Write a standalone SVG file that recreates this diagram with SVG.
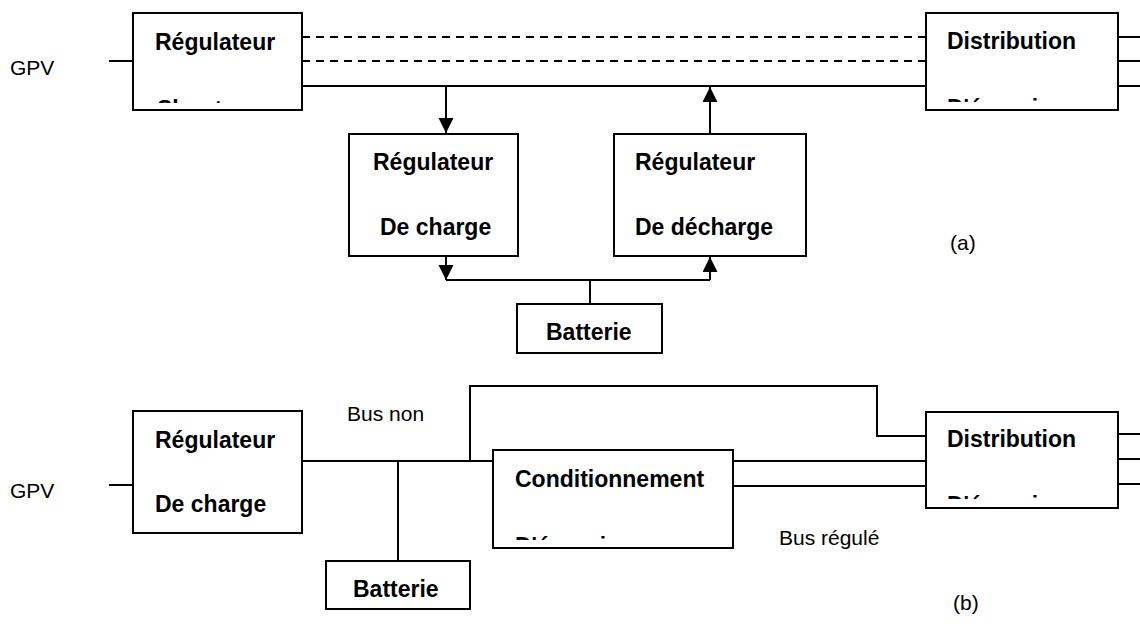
<svg xmlns="http://www.w3.org/2000/svg" width="1140" height="629" viewBox="0 0 1140 629">
<style>
.box{fill:#fff;stroke:#000;stroke-width:2}
.ln{fill:none;stroke:#000;stroke-width:2}
.dash{fill:none;stroke:#000;stroke-width:2;stroke-dasharray:8 6}
.b{font-family:"Liberation Sans",Arial,sans-serif;font-weight:bold;font-size:23px;fill:#000}
.r{font-family:"Liberation Sans",Arial,sans-serif;font-size:21px;fill:#000}
</style>
<defs>
<marker id="ah" markerUnits="userSpaceOnUse" markerWidth="16" markerHeight="16" refX="15" refY="7.5" orient="auto">
<path d="M0,0 L15,7.5 L0,15 Z" fill="#000"/>
</marker>
<clipPath id="c1"><rect x="133" y="13" width="169" height="90"/></clipPath>
<clipPath id="c2"><rect x="926" y="13" width="192" height="89"/></clipPath>
<clipPath id="c3"><rect x="493" y="450" width="240" height="90"/></clipPath>
<clipPath id="c4"><rect x="926" y="412" width="192" height="87"/></clipPath>
</defs>

<g id="connectors">
<line class="ln" x1="109" y1="61" x2="133" y2="61"/>
<line class="dash" x1="302" y1="37" x2="926" y2="37"/>
<line class="dash" x1="302" y1="61" x2="926" y2="61"/>
<line class="ln" x1="302" y1="86" x2="926" y2="86" stroke-width="2.5"/>
<line class="ln" x1="1118" y1="37" x2="1140" y2="37"/>
<line class="ln" x1="1118" y1="61" x2="1140" y2="61"/>
<line class="ln" x1="1118" y1="86" x2="1140" y2="86"/>
<line class="ln" x1="446" y1="86" x2="446" y2="133" marker-end="url(#ah)"/>
<line class="ln" x1="710" y1="134" x2="710" y2="87" marker-end="url(#ah)"/>
<line class="ln" x1="446" y1="256" x2="446" y2="280" marker-end="url(#ah)"/>
<line class="ln" x1="710" y1="280" x2="710" y2="257" marker-end="url(#ah)"/>
<polyline class="ln" points="446,280 710,280"/>
<line class="ln" x1="590" y1="280" x2="590" y2="304"/>

<line class="ln" x1="109" y1="485" x2="133" y2="485"/>
<line class="ln" x1="302" y1="461" x2="493" y2="461"/>
<line class="ln" x1="398" y1="461" x2="398" y2="561"/>
<polyline class="ln" points="470,461 470,386 877,386 877,436 926,436"/>
<line class="ln" x1="733" y1="461" x2="926" y2="461"/>
<line class="ln" x1="733" y1="486" x2="926" y2="486"/>
<line class="ln" x1="1118" y1="434" x2="1140" y2="434"/>
<line class="ln" x1="1118" y1="459" x2="1140" y2="459"/>
<line class="ln" x1="1118" y1="484" x2="1140" y2="484"/>
</g>

<g id="labels">
<text class="r" x="10" y="75">GPV</text>
<text class="r" x="950" y="250">(a)</text>
<text class="r" x="10" y="498">GPV</text>
<text class="r" x="347" y="421">Bus non</text>
<text class="r" x="779" y="545">Bus régulé</text>
<text class="r" x="953" y="610">(b)</text>
</g>

<g id="reg-shunt">
<rect class="box" x="133" y="13" width="169" height="97"/>
<text class="b" x="155" y="50">Régulateur</text>
<text class="b" x="157" y="117" clip-path="url(#c1)">Shunt</text>
</g>

<g id="distribution-a">
<rect class="box" x="926" y="13" width="192" height="97"/>
<text class="b" x="947" y="49">Distribution</text>
<text class="b" x="947" y="116" clip-path="url(#c2)">D'énergie</text>
</g>

<g id="reg-charge-a">
<rect class="box" x="349" y="134" width="169" height="122"/>
<text class="b" x="373" y="170">Régulateur</text>
<text class="b" x="380" y="235">De charge</text>
</g>

<g id="reg-decharge">
<rect class="box" x="614" y="134" width="192" height="122"/>
<text class="b" x="635" y="170">Régulateur</text>
<text class="b" x="635" y="235">De décharge</text>
</g>

<g id="batterie-a">
<rect class="box" x="517" y="304" width="145" height="49"/>
<text class="b" x="546" y="340">Batterie</text>
</g>

<g id="reg-charge-b">
<rect class="box" x="133" y="411" width="169" height="122"/>
<text class="b" x="155" y="448">Régulateur</text>
<text class="b" x="155" y="512">De charge</text>
</g>

<g id="batterie-b">
<rect class="box" x="326" y="561" width="144" height="48"/>
<text class="b" x="353" y="597">Batterie</text>
</g>

<g id="conditionnement">
<rect class="box" x="493" y="450" width="240" height="98"/>
<text class="b" x="515" y="487">Conditionnement</text>
<text class="b" x="515" y="554" clip-path="url(#c3)">D'énergie</text>
</g>

<g id="distribution-b">
<rect class="box" x="926" y="412" width="192" height="96"/>
<text class="b" x="947" y="447">Distribution</text>
<text class="b" x="947" y="513" clip-path="url(#c4)">D'énergie</text>
</g>
</svg>
